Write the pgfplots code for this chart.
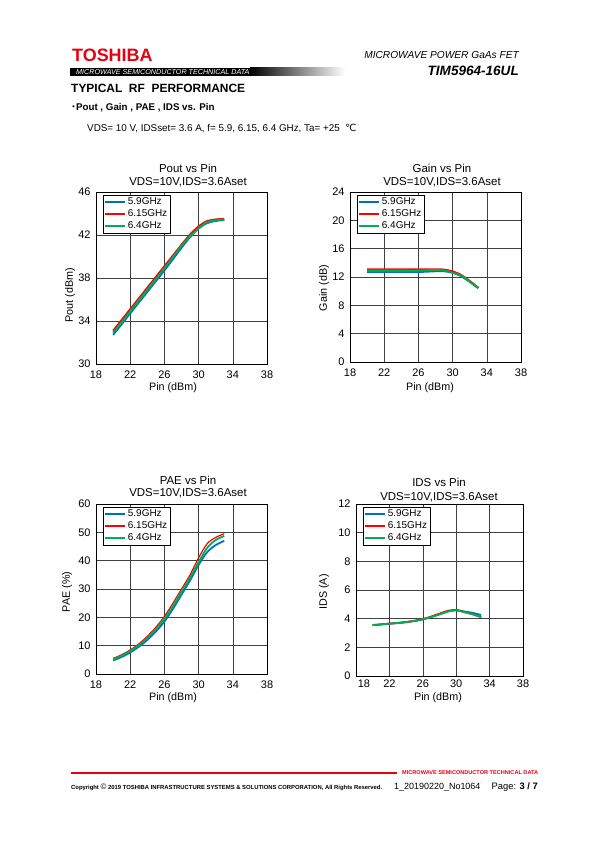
\documentclass[border=0pt]{standalone}
\usepackage{pgfplots}
\pgfplotsset{compat=1.18}
\usepackage{fontspec}
\setmainfont{Liberation Sans}
\newfontfamily\cjk{Noto Sans CJK JP}
\newfontfamily\dejavu{DejaVu Sans}
\definecolor{cb}{RGB}{0,112,192}
\definecolor{cr}{RGB}{255,0,0}
\definecolor{cg}{RGB}{0,176,80}
\definecolor{tred}{RGB}{230,0,18}
\pgfplotsset{
  chart/.style={
    scale only axis, anchor=south west,
    xmin=18, xmax=38, xtick={18,22,...,38},
    grid=major, major grid style={black!75, line width=0.6pt},
    axis line style={black, line width=0.8pt},
    major tick length=0pt,
    tick label style={font=\fontsize{11}{12}\selectfont},
    xticklabel style={yshift=-3pt},
    yticklabel style={xshift=-2pt},
    /pgf/number format/assume math mode=true,
    legend style={at={(0.04,0.985)}, anchor=north west, draw=black, line width=0.5pt,
      font=\fontsize{10}{11}\selectfont, inner sep=1pt, row sep=-0.5pt, fill=white,
      legend cell align=left},
    legend image code/.code={\draw[##1, line width=2pt] (0cm,0cm) -- (0.7cm,0cm);},
    every axis plot/.append style={line width=1.8pt, smooth},
  }
}
\begin{document}
\begin{tikzpicture}[x=1bp,y=1bp]
\fill[white] (0,0) rectangle (595,842);
\useasboundingbox (0,0) rectangle (595,842);

% ---------- header ----------
\node[anchor=west, inner sep=0, text=tred, font=\fontsize{18}{18}\selectfont\bfseries] at (72,787) {TOSHIBA};
\fill[black] (70,766) rectangle (250,774);
\shade[left color=black, right color=white] (250,766) rectangle (345,774);
\node[anchor=west, inner sep=0, text=white, font=\fontsize{7.2}{8}\selectfont\itshape] at (76,770) {MICROWAVE SEMICONDUCTOR TECHNICAL DATA};
\node[anchor=east, inner sep=0, font=\fontsize{10.2}{11}\selectfont\itshape] at (519,787) {MICROWAVE POWER GaAs FET};
\node[anchor=east, inner sep=0, font=\fontsize{13.6}{14}\selectfont\bfseries\itshape] at (519,771) {TIM5964-16UL};
\node[anchor=west, inner sep=0, font=\fontsize{12}{13}\selectfont\bfseries] at (71,754) {TYPICAL\ \ RF\ \ PERFORMANCE};
\node[anchor=west, inner sep=0, font=\fontsize{9.8}{10}\selectfont\bfseries] at (71,734) {{\cjk ･}Pout , Gain , PAE , IDS vs. Pin};
\node[anchor=west, inner sep=0, font=\fontsize{9.9}{11}\selectfont] at (87,714) {VDS= 10 V, IDSset= 3.6 A, f= 5.9, 6.15, 6.4 GHz, Ta= +25\ \ {\dejavu ℃}};

% ---------- footer ----------
\draw[tred, line width=1.5pt] (71,69) -- (397,69);
\node[anchor=west, inner sep=0, text=tred, font=\fontsize{5.6}{6}\selectfont\bfseries] at (402,69) {MICROWAVE SEMICONDUCTOR TECHNICAL DATA};
\node[anchor=west, inner sep=0, font=\fontsize{5.9}{7}\selectfont\bfseries] at (71,55) {Copyright {\fontsize{8}{8}\selectfont\normalfont ©} 2019 TOSHIBA INFRASTRUCTURE SYSTEMS \& SOLUTIONS CORPORATION, All Rights Reserved.};
\node[anchor=west, inner sep=0, font=\fontsize{9}{10}\selectfont] at (394,55) {1\_20190220\_No1064};
\node[anchor=east, inner sep=0, font=\fontsize{9.4}{10}\selectfont] at (538,55) {Page: \textbf{3 / 7}};

% ---------- titles and labels ----------
\begin{scope}[every node/.style={font=\fontsize{11.5}{13}\selectfont, inner sep=0}]
\node at (188,674) {Pout vs Pin};
\node at (188,660) {VDS=10V,IDS=3.6Aset};
\node at (442,674) {Gain vs Pin};
\node at (442,660) {VDS=10V,IDS=3.6Aset};
\node at (188,362) {PAE vs Pin};
\node at (188,349) {VDS=10V,IDS=3.6Aset};
\node at (439,360) {IDS vs Pin};
\node at (439,345) {VDS=10V,IDS=3.6Aset};
\end{scope}
\begin{scope}[every node/.style={font=\fontsize{10.8}{12}\selectfont, inner sep=0}]
\node at (173,454.5) {Pin (dBm)};
\node at (430,454) {Pin (dBm)};
\node at (173,144.5) {Pin (dBm)};
\node at (438,144.5) {Pin (dBm)};
\node[rotate=90] at (70,547) {Pout (dBm)};
\node[rotate=90] at (324,554) {Gain (dB)};
\node[rotate=90] at (67,250) {PAE (\%)};
\node[rotate=90] at (324,250) {IDS (A)};
\end{scope}

% ---------- Pout ----------
\begin{axis}[chart, at={(96bp,478bp)}, width=171bp, height=172bp,
  ymin=30, ymax=46, ytick={30,34,...,46}]
\addplot[cb] coordinates {(20,32.7) (21,33.7) (22,34.7) (23,35.7) (24,36.7) (25,37.7) (26,38.7) (27,39.75) (28,40.8) (29,41.8) (30,42.6) (31,43.1) (32,43.3) (33,43.4)};
\addplot[cr] coordinates {(20,33.1) (21,34.1) (22,35.1) (23,36.1) (24,37.1) (25,38.1) (26,39.1) (27,40.1) (28,41.1) (29,42.05) (30,42.8) (31,43.3) (32,43.45) (33,43.5)};
\addplot[cg] coordinates {(20,32.9) (21,33.9) (22,34.9) (23,35.9) (24,36.9) (25,37.9) (26,38.9) (27,39.95) (28,41.0) (29,41.9) (30,42.6) (31,43.2) (32,43.35) (33,43.45)};
\legend{5.9GHz,6.15GHz,6.4GHz}
\end{axis}

% ---------- Gain ----------
\begin{axis}[chart, at={(350bp,480bp)}, width=171bp, height=170bp,
  ymin=0, ymax=24, ytick={0,4,...,24}, xticklabel style={yshift=-0.5pt}]
\addplot[cb] coordinates {(20,12.7) (22,12.7) (24,12.7) (26,12.7) (28,12.8) (29,12.8) (30,12.6) (31,12.1) (32,11.3) (33,10.4)};
\addplot[cr] coordinates {(20,13.1) (22,13.1) (24,13.1) (26,13.1) (28,13.1) (29,13.05) (30,12.8) (31,12.3) (32,11.45) (33,10.5)};
\addplot[cg] coordinates {(20,12.9) (22,12.9) (24,12.9) (26,12.9) (28,13.0) (29,12.9) (30,12.6) (31,12.2) (32,11.35) (33,10.45)};
\legend{5.9GHz,6.15GHz,6.4GHz}
\end{axis}

% ---------- PAE ----------
\begin{axis}[chart, at={(96bp,168bp)}, width=171bp, height=170bp,
  ymin=0, ymax=60, ytick={0,10,...,60}]
\addplot[cb] coordinates {(20,4.8) (21,6.0) (22,7.6) (23,9.6) (24,12.0) (25,15.0) (26,18.5) (27,23.0) (28,28.0) (29,33.0) (30,38.5) (31,43.0) (32,45.5) (33,47.0)};
\addplot[cr, line width=1.2pt] coordinates {(20,5.5) (21,6.8) (22,8.5) (23,10.6) (24,13.3) (25,16.5) (26,20.3) (27,25.0) (28,30.0) (29,35.0) (30,41.0) (31,46.0) (32,48.2) (33,49.5)};
\addplot[cg] coordinates {(20,5.2) (21,6.4) (22,8.1) (23,10.1) (24,12.7) (25,15.8) (26,19.5) (27,24.0) (28,29.0) (29,34.0) (30,39.5) (31,44.5) (32,47.3) (33,48.7)};
\legend{5.9GHz,6.15GHz,6.4GHz}
\end{axis}

% ---------- IDS ----------
\begin{axis}[chart, at={(356bp,166bp)}, width=167bp, height=172bp,
  ymin=0, ymax=12, ytick={0,2,...,12}, xticklabel style={yshift=3pt},
  xticklabels={\hspace*{16pt}18,22,26,30,34,38}]
\addplot[cb] coordinates {(20,3.55) (22,3.65) (24,3.75) (26,3.95) (28,4.3) (29,4.5) (30,4.6) (31,4.5) (32,4.4) (33,4.25)};
\addplot[cr] coordinates {(20,3.55) (22,3.65) (24,3.77) (26,3.97) (28,4.35) (29,4.55) (30,4.6) (31,4.45) (32,4.3) (33,4.1)};
\addplot[cg] coordinates {(20,3.55) (22,3.65) (24,3.76) (26,3.95) (28,4.3) (29,4.5) (30,4.58) (31,4.45) (32,4.3) (33,4.1)};
\legend{5.9GHz,6.15GHz,6.4GHz}
\end{axis}
\end{tikzpicture}
\end{document}
